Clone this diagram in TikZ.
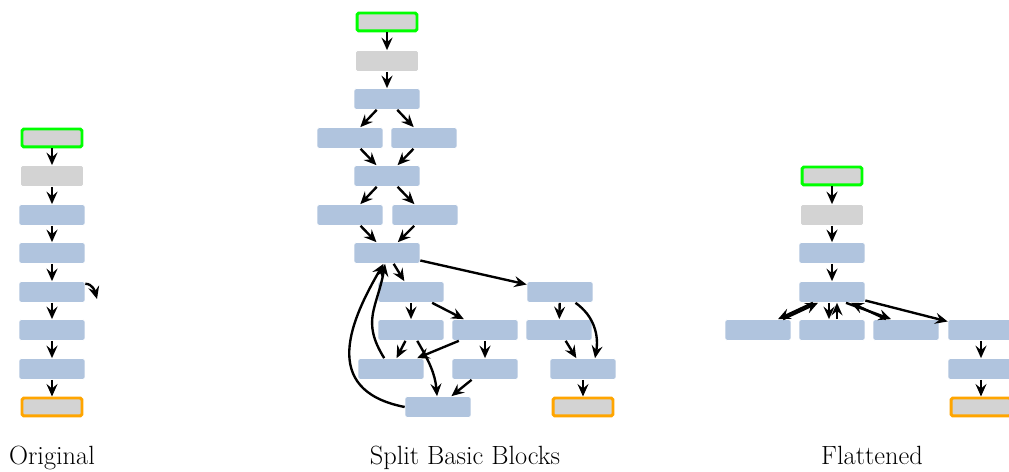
\documentclass[tikz,border=0pt]{standalone}
\usepackage{tikz}
\usepackage{xcolor}
\usetikzlibrary{arrows.meta,shapes,calc}
\definecolor{blockblue}{HTML}{B0C4DE}
\definecolor{blockgray}{HTML}{D3D3D3}
\definecolor{entrygreen}{HTML}{00FF00}
\definecolor{exitorange}{HTML}{FFA500}
\tikzstyle{flow edge} = [draw, line width=1.35pt, -{Stealth[length=2.5mm,width=2.2mm,inset=0.9mm]}]
\tikzstyle{caption} = [anchor=base, font=\fontsize{15}{18}\selectfont]

\begin{document}
\begin{tikzpicture}
[x=0.02cm,y=-0.02cm,%
block/.style={shape=rectangle,rounded corners=1pt,draw=white,line width=0.4pt,fill=blockblue,minimum width=1.32cm,minimum height=0.42cm,inner sep=0pt},
grayblock/.style={block,fill=blockgray,minimum width=1.26cm},
entry/.style={grayblock,draw=entrygreen,line width=1.7pt,minimum width=1.2cm,minimum height=0.36cm},
exit/.style={grayblock,draw=exitorange,line width=1.7pt,minimum width=1.2cm,minimum height=0.36cm}]

\useasboundingbox (0,0) rectangle (1009,472);

%% nodes or vertices
\foreach \nodename/\x/\y/\kind in {
o1/52/138/entry, o2/52/176/grayblock, o3/52/215/block, o4/52/253/block, o5/52/292/block, o6/52/330/block, o7/52/369/block, o8/52/407/exit,
s1/387/22/entry, s2/387/61/grayblock, s3/387/99/block, s4/350/138/block, s5/424/138/block, s6/387/176/block, s7/350/215/block, s8/425/215/block, s9/387/253/block,
s10/411/292/block, s11/560/292/block, s12/411/330/block, s13/485/330/block, s14/559/330/block, s15/391/369/block, s16/485/369/block, s17/583/369/block, s18/438/407/block, s19/583/407/exit,
f1/832/176/entry, f2/832/215/grayblock, f3/832/253/block, f4/832/292/block, f5/758/330/block, f6/832/330/block, f7/906/330/block, f8/981/330/block, f9/981/369/block, f10/981/407/exit}
{
\node (\nodename) at (\x,\y) [\kind] {};
}

\coordinate (o5loop) at (97,299);

\node[caption] (origtitle) at (52,465) {Original};
\node[caption] (splittitle) at (465,465) {Split Basic Blocks};
\node[caption] (flattitle) at (872,465) {Flattened};

%% edges or lines
\path
\foreach \startnode/\endnode in {o1/o2, o2/o3, o3/o4, o4/o5, o5/o6, o6/o7, o7/o8,
s1/s2, s2/s3, s3/s4, s3/s5, s4/s6, s5/s6, s6/s7, s6/s8, s7/s9, s8/s9, s9/s10, s9/s11,
s10/s12, s10/s13, s12/s15, s13/s15, s13/s16, s16/s18, s11/s14, s14/s17, s17/s19,
f1/f2, f2/f3, f3/f4, f4/f8, f8/f9, f9/f10}
{
(\startnode) edge[flow edge] (\endnode)
};

\draw[flow edge] ([yshift=-1.5pt]o5.north east) to[out=0,in=105] (o5loop);
\draw[flow edge] (s12) to[out=-60,in=95] (s18);
\draw[flow edge] (s15) to[out=122,in=-100,looseness=1.2] (s9);
\draw[flow edge] (s18.west) .. controls (318,390) and (352,318) .. (s9.-108);
\draw[flow edge] (s11) to[out=-35,in=80] ($(s17.north)+(12,0)$);

\draw[flow edge] ($(f4.south)+(-19,0)$) -- ($(f5.north)+(20,0)$);
\draw[flow edge] ($(f5.north)+(25,0)$) -- ($(f4.south)+(-14,0)$);
\draw[flow edge] ($(f4.south)+(-3,0)$) -- ($(f6.north)+(-3,0)$);
\draw[flow edge] ($(f6.north)+(5,0)$) -- ($(f4.south)+(5,0)$);
\draw[flow edge] ($(f4.south)+(14,0)$) -- ($(f7.north)+(-15,0)$);
\draw[flow edge] ($(f7.north)+(-20,0)$) -- ($(f4.south)+(19,0)$);

\end{tikzpicture}
\end{document}
